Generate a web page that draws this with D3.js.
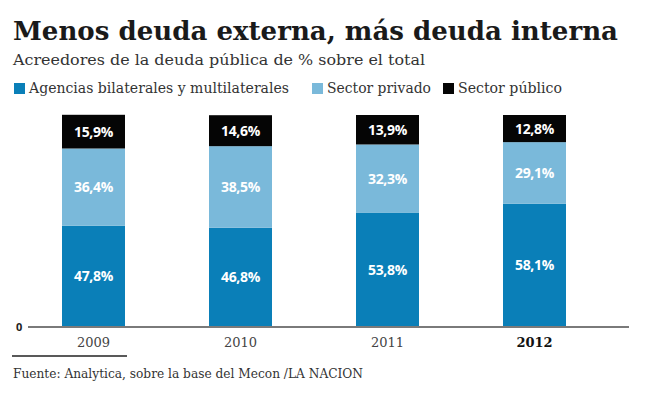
<!DOCTYPE html>
<html>
<head>
<meta charset="utf-8">
<script src="https://cdn.jsdelivr.net/npm/d3@7"></script>
<style>
  html, body { margin: 0; padding: 0; background: #fff; }
  svg { display: block; }
</style>
</head>
<body>
<svg id="chart" width="645" height="398"></svg>
<script>
const years = ["2009", "2010", "2011", "2012"];
const agencias = [47.8, 46.8, 53.8, 58.1];
const privado = [36.4, 38.5, 32.3, 29.1];
const publico = [15.9, 14.6, 13.9, 12.8];
const seriesNames = ["Agencias bilaterales y multilaterales", "Sector privado", "Sector público"];
const seriesKeys = ["agencias", "privado", "publico"];
const colors = ["#0a7fb8", "#7ab9da", "#050505"];
const yTicks = [0];

const fmt = v => v.toFixed(1).replace(".", ",") + "%";

const table = years.map((y, i) => ({ year: y, agencias: agencias[i], privado: privado[i], publico: publico[i] }));

const svg = d3.select("#chart");

// Title & subtitle
const title = svg.append("text")
  .attr("x", 13).attr("y", 40)
  .style("font-family", "'DejaVu Serif', serif")
  .style("font-weight", "bold")
  .style("font-size", "26px")
  .attr("fill", "#1a1a1a")
  .text("Menos deuda externa, más deuda interna");
title.attr("textLength", 605).attr("lengthAdjust", "spacingAndGlyphs");

svg.append("text")
  .attr("x", 13).attr("y", 65)
  .style("font-family", "'DejaVu Serif', serif")
  .style("font-size", "15.5px")
  .attr("fill", "#333")
  .attr("textLength", 412).attr("lengthAdjust", "spacingAndGlyphs")
  .text("Acreedores de la deuda pública de % sobre el total");

// Legend
const legendX = [14, 312, 443];
const legendW = [260, 104, 104];
const lg = svg.append("g");
seriesNames.forEach((name, i) => {
  lg.append("rect")
    .attr("x", legendX[i]).attr("y", 83)
    .attr("width", 11).attr("height", 11)
    .attr("fill", colors[i]);
  lg.append("text")
    .attr("x", legendX[i] + 15).attr("y", 93)
    .style("font-family", "'DejaVu Serif', serif")
    .style("font-size", "14px")
    .attr("fill", "#333")
    .attr("textLength", legendW[i]).attr("lengthAdjust", "spacingAndGlyphs")
    .text(name);
});

// Scales
const x = d3.scaleBand().domain(years).range([62, 566]).paddingInner(84 / 147).paddingOuter(0);
const y = d3.scaleLinear().domain([0, 100]).range([327, 115]);

const stack = d3.stack().keys(seriesKeys);
const stacked = stack(table);

const g = svg.append("g");
stacked.forEach((layer, li) => {
  g.selectAll(null).data(layer).enter().append("rect")
    .attr("x", d => x(d.data.year))
    .attr("width", x.bandwidth())
    .attr("y", d => y(d[1]))
    .attr("height", d => y(d[0]) - y(d[1]))
    .attr("fill", colors[li]);
  g.selectAll(null).data(layer).enter().append("text")
    .attr("x", d => x(d.data.year) + x.bandwidth() / 2)
    .attr("y", d => (y(d[0]) + y(d[1])) / 2 + 5)
    .attr("text-anchor", "middle")
    .style("font-family", "'Open Sans', sans-serif")
    .style("font-weight", "bold")
    .style("font-size", "14px")
    .style("letter-spacing", "-0.3px")
    .attr("fill", "#fff")
    .text(d => fmt(d.data[layer.key]));
});

// Baseline axis
svg.append("line")
  .attr("x1", 28).attr("x2", 629)
  .attr("y1", y(0)).attr("y2", y(0))
  .attr("stroke", "#7a7a7a").attr("stroke-width", 2);

svg.selectAll(null).data(yTicks).enter().append("text")
  .attr("x", 16).attr("y", d => y(d) + 4)
  .style("font-family", "'Open Sans', sans-serif")
  .style("font-weight", "bold")
  .style("font-size", "11px")
  .attr("fill", "#222")
  .text(d => d);

// Year labels via axis
const xAxis = d3.axisBottom(x).tickSize(0).tickPadding(0);
const ax = svg.append("g").attr("transform", `translate(0,${y(0)})`).call(xAxis);
ax.select(".domain").remove();
ax.selectAll("text")
  .attr("y", 20)
  .attr("dy", 0)
  .style("font-family", "'DejaVu Serif', serif")
  .style("font-size", "13px")
  .style("font-weight", d => d === "2012" ? "bold" : "normal")
  .attr("fill", d => d === "2012" ? "#111" : "#444");

// Footer
svg.append("line")
  .attr("x1", 12).attr("x2", 127)
  .attr("y1", 356).attr("y2", 356)
  .attr("stroke", "#222").attr("stroke-width", 1.5);

svg.append("text")
  .attr("x", 13).attr("y", 378)
  .style("font-family", "'DejaVu Serif', serif")
  .style("font-size", "12px")
  .attr("fill", "#333")
  .attr("textLength", 350).attr("lengthAdjust", "spacingAndGlyphs")
  .text("Fuente: Analytica, sobre la base del Mecon /LA NACION");
</script>
</body>
</html>
